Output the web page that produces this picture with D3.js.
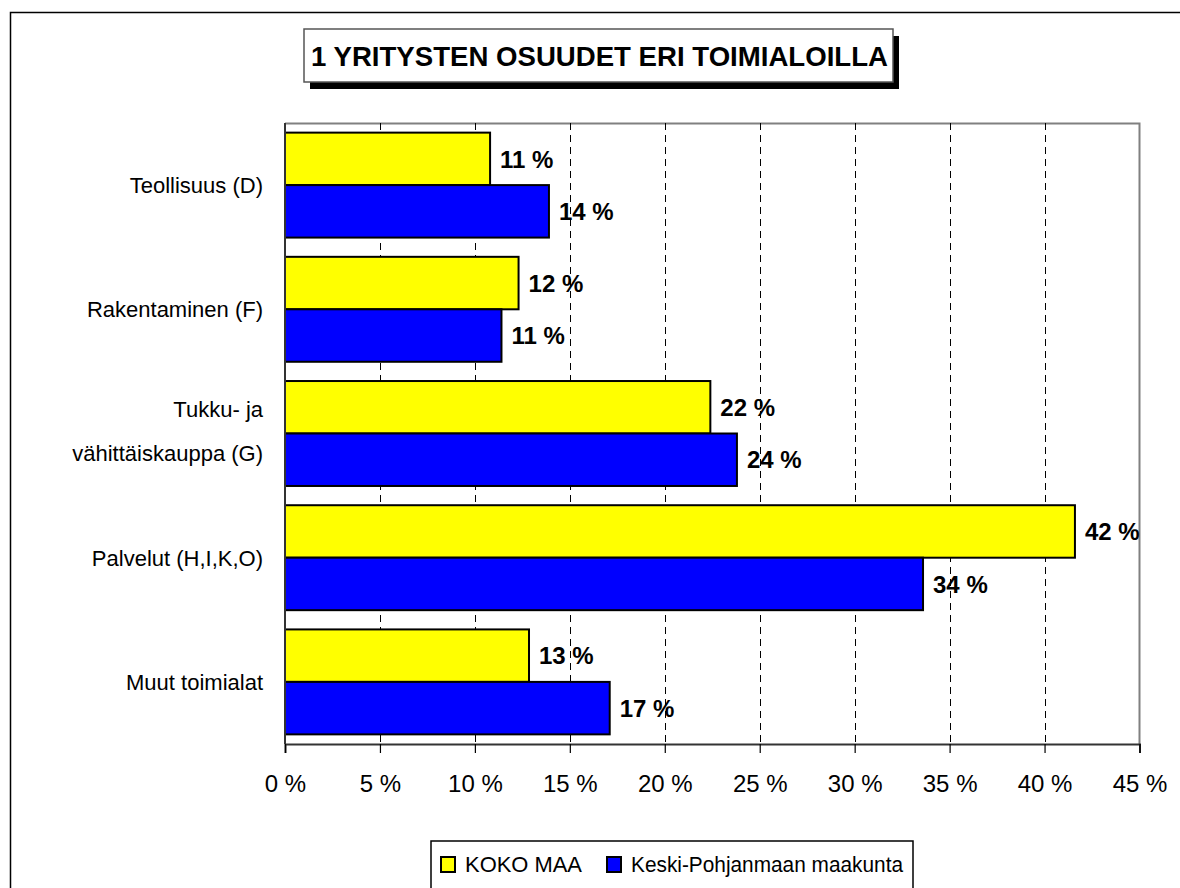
<!DOCTYPE html>
<html>
<head>
<meta charset="utf-8">
<script src="https://cdn.jsdelivr.net/npm/d3@7/dist/d3.min.js"></script>
<style>
  body { margin: 0; background: #fff; }
  svg { display: block; font-family: "Liberation Sans", Arial, sans-serif; }
</style>
</head>
<body>
<div id="chart"></div>
<script>
// data
const categories = ["Teollisuus (D)", "Rakentaminen (F)", "Tukku- ja\nvähittäiskauppa (G)", "Palvelut (H,I,K,O)", "Muut toimialat"];
const seriesNames = ["KOKO MAA", "Keski-Pohjanmaan maakunta"];
const kokoMaa = [10.8, 12.3, 22.4, 41.6, 12.85];
const keskiPohjanmaa = [13.9, 11.4, 23.8, 33.6, 17.1];
const xTicks = [0, 5, 10, 15, 20, 25, 30, 35, 40, 45];
const colors = ["#ffff00", "#0000ff"];

const W = 1180, H = 888;
const plot = { left: 285, top: 123, right: 1139.5, bottom: 744 };

const svg = d3.select("#chart").append("svg")
  .attr("width", W)
  .attr("height", H);

// outer chart border (runs off the right / bottom edge)
svg.append("path")
  .attr("d", "M10.5," + (H + 5) + "V12.5H" + (W + 5))
  .attr("fill", "none")
  .attr("stroke", "#000")
  .attr("stroke-width", 1.5);

let x = d3.scaleLinear().domain([0, 45]).range([plot.left, plot.right]);
let y = d3.scaleBand().domain(categories).range([plot.top, plot.bottom])
  .paddingInner(0.155).paddingOuter(0.0775);
let ySub = d3.scaleBand().domain([0, 1]).range([0, y.bandwidth()]);

// plot frame: grey top and right
svg.append("path")
  .attr("d", `M${plot.left},${plot.top + 0.5}H${plot.right}V${plot.bottom}`)
  .attr("fill", "none")
  .attr("stroke", "#808080")
  .attr("stroke-width", 2);

// dashed gridlines
svg.append("g").selectAll("line")
  .data(xTicks.filter(d => d > 0 && d < 45))
  .enter().append("line")
    .attr("x1", d => Math.round(x(d)) + 0.5)
    .attr("x2", d => Math.round(x(d)) + 0.5)
    .attr("y1", plot.top)
    .attr("y2", plot.bottom)
    .attr("stroke", "#000")
    .attr("stroke-width", 1)
    .attr("stroke-dasharray", "7,5");

// bars
let rows = categories.map((c, i) => ({ cat: c, vals: [kokoMaa[i], keskiPohjanmaa[i]] }));

let groups = svg.append("g").selectAll("g")
  .data(rows).enter()
  .append("g")
    .attr("transform", d => "translate(0," + y(d.cat) + ")");

groups.selectAll("rect")
  .data(d => d.vals.map((v, s) => ({ v: v, s: s })))
  .enter().append("rect")
    .attr("x", x(0))
    .attr("y", d => ySub(d.s))
    .attr("width", d => x(d.v) - x(0))
    .attr("height", ySub.bandwidth())
    .attr("fill", d => colors[d.s])
    .attr("stroke", "#000")
    .attr("stroke-width", 2);

// value labels
groups.selectAll("text")
  .data(d => d.vals.map((v, s) => ({ v: v, s: s })))
  .enter().append("text")
    .attr("x", d => x(d.v) + 10)
    .attr("y", d => ySub(d.s) + ySub.bandwidth() / 2)
    .attr("dy", "0.36em")
    .attr("font-size", 24)
    .attr("font-weight", "bold")
    .text(d => Math.round(d.v) + " %");

// category labels
let catText = svg.append("g").selectAll("text")
  .data(categories).enter()
  .append("text")
    .attr("text-anchor", "end")
    .attr("font-size", 22)
    .attr("y", d => y(d) + y.bandwidth() / 2);

catText.each(function (d) {
  let lines = d.split("\n");
  let el = d3.select(this);
  lines.forEach((ln, i) => {
    el.append("tspan")
      .attr("x", 263)
      .attr("dy", i === 0 ? (0.36 - (lines.length - 1) * 1.1) + "em" : "2em")
      .text(ln);
  });
});

// left axis line
svg.append("line")
  .attr("x1", plot.left).attr("x2", plot.left)
  .attr("y1", plot.top).attr("y2", plot.bottom)
  .attr("stroke", "#333").attr("stroke-width", 2);

// bottom axis
let xAxis = d3.axisBottom(x)
  .tickValues(xTicks)
  .tickSize(9)
  .tickPadding(22)
  .tickFormat(d => d + " %");

let axisG = svg.append("g")
  .attr("transform", "translate(0," + plot.bottom + ")")
  .call(xAxis);

axisG.select(".domain").attr("stroke", "#333").attr("stroke-width", 2);
axisG.selectAll(".tick line").attr("stroke", "#000").attr("stroke-width", 1.2);
axisG.selectAll(".tick text")
  .attr("font-size", 24)
  .attr("font-family", "'Liberation Sans', Arial, sans-serif")
  .attr("fill", "#000");

// title box with shadow
let title = { x: 304, y: 29, w: 589, h: 53 };
svg.append("rect")
  .attr("x", title.x + 6).attr("y", title.y + 7)
  .attr("width", title.w).attr("height", title.h)
  .attr("fill", "#000");
svg.append("rect")
  .attr("x", title.x).attr("y", title.y)
  .attr("width", title.w).attr("height", title.h)
  .attr("fill", "#fff")
  .attr("stroke", "#555")
  .attr("stroke-width", 1.5);
svg.append("text")
  .attr("x", title.x + 7)
  .attr("y", title.y + title.h / 2)
  .attr("dy", "0.36em")
  .attr("font-size", 28)
  .attr("font-weight", "bold")
  .attr("textLength", 577)
  .attr("lengthAdjust", "spacingAndGlyphs")
  .text("1 YRITYSTEN OSUUDET ERI TOIMIALOILLA");

// legend
let legend = { x: 431, y: 841, w: 482 };
svg.append("path")
  .attr("d", `M${legend.x},${H + 5}V${legend.y}H${legend.x + legend.w}V${H + 5}`)
  .attr("fill", "none")
  .attr("stroke", "#000")
  .attr("stroke-width", 1.5);

let legendX = [441, 607];
let legendLen = [117, 272];
seriesNames.forEach((name, i) => {
  svg.append("rect")
    .attr("x", legendX[i]).attr("y", 857)
    .attr("width", 14).attr("height", 15)
    .attr("fill", colors[i])
    .attr("stroke", "#000")
    .attr("stroke-width", 2);
  svg.append("text")
    .attr("x", legendX[i] + 24)
    .attr("y", 864.5)
    .attr("dy", "0.36em")
    .attr("font-size", 22)
    .attr("textLength", legendLen[i])
    .attr("lengthAdjust", "spacingAndGlyphs")
    .text(name);
});
</script>
</body>
</html>
